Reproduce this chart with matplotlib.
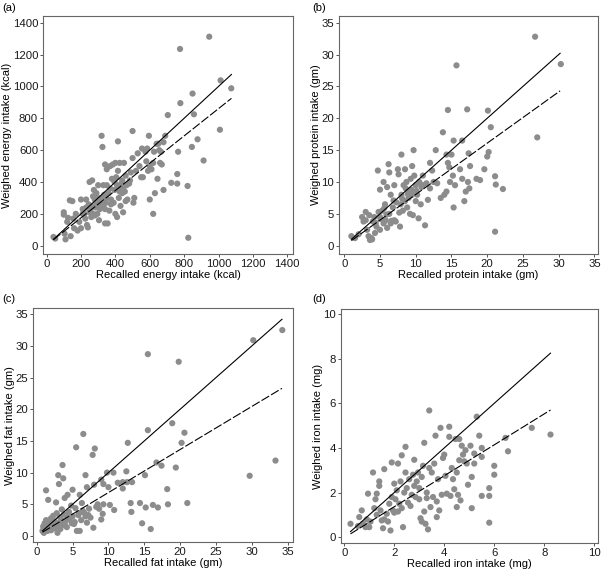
import matplotlib
matplotlib.use("Agg")
import matplotlib.pyplot as plt

plt.rcParams['font.family'] = ['Liberation Sans', 'DejaVu Sans']

# (a) energy, kcal
energy_x = [40, 50, 100, 100, 105, 110, 120, 125, 135, 140, 150, 155, 160, 170, 180, 190, 200, 200, 210, 215,
            220, 225, 230, 235, 240, 245, 250, 255, 260, 265, 270, 270, 275, 280, 285, 290, 290, 295, 300, 300,
            305, 310, 315, 320, 320, 325, 330, 335, 340, 340, 345, 350, 350, 355,
            360, 365, 370, 375, 380, 385, 390, 395, 400, 400, 405, 410, 410, 415, 415, 420, 425, 425, 430, 435,
            440, 445, 445, 450, 455, 460, 460, 470, 480, 490, 500, 500, 505, 510,
            520, 530, 540, 550, 555, 560, 575, 580, 585, 590, 595, 600, 600, 610, 620, 620, 625, 630, 640, 645,
            650, 655, 660, 665, 670, 680, 680, 690,
            705, 725, 760, 760, 765, 776, 778, 820, 824, 845, 849, 857, 878, 913, 946, 1008, 1012, 1074,
            230, 260, 285, 310, 330, 345, 370, 395, 420, 440, 465, 485, 210, 250, 280, 305, 340, 375]
energy_y = [55, 45, 210, 195, 75, 40, 150, 175, 285, 60, 280, 170, 110, 200, 95, 150, 290, 110, 200, 230,
            200, 170, 240, 130, 115, 260, 400, 220, 180, 410, 310, 200, 350, 290, 240, 330, 260, 200, 380, 280,
            160, 230, 300, 690, 250, 620, 380, 320, 140, 510, 270, 480, 380, 140,
            330, 220, 500, 290, 420, 510, 270, 350, 520, 200, 430, 380, 180, 655, 470, 300, 340, 520, 250, 390,
            410, 210, 360, 520, 340, 440, 280, 290, 390, 460, 720, 550, 270, 300,
            470, 580, 500, 430, 610, 430, 590, 530, 610, 470, 690, 290, 500, 480, 520, 200, 590, 330, 640, 420,
            640, 600, 520, 590, 510, 650, 350, 690,
            820, 395, 450, 390, 590, 1235, 895, 375, 50, 620, 955, 825, 668, 535, 1312, 728, 1038, 988,
            290, 250, 310, 270, 250, 300, 360, 400, 360, 330, 380, 410, 230, 210, 190, 240, 230, 260]

# (b) protein, gm
protein_x = [1, 1.5, 2, 2.5, 2.7, 3, 3, 3.2, 3.4, 3.5, 3.6, 3.8, 3.9, 4, 4.2, 4.3, 4.5, 4.7, 4.8, 5, 5, 5,
             5.3, 5.5, 5.5, 5.7, 5.8, 6, 6, 6.2, 6.3, 6.3, 6.5, 6.5, 6.8, 7, 7, 7.2, 7.5, 7.6, 7.8, 7.9, 8, 8,
             8.2, 8.3, 8.5, 8.5, 8.7, 8.8, 9, 9, 9.2, 9.3, 9.5, 9.5, 9.6, 9.7, 9.8, 10, 10,
             10.2, 10.4, 10.5, 10.7, 11, 11, 11.3, 11.5, 11.7, 12, 12, 12.3, 12.5, 12.8, 13, 13.5, 13.8, 14,
             14.3, 14.3, 14.5, 14.5, 14.7, 14.8, 15, 15.2, 15.3, 15.3, 15.5,
             15.7, 16.2, 16.5, 16.5, 16.8, 17, 17.2, 17.3, 17.4, 17.5, 17.6, 18.5, 19, 19.6, 20, 20.1, 20.2,
             20.5, 21.1, 21.2, 21.1, 22.2, 26.7, 27, 30.3,
             4.4, 5.1, 5.9, 6.6, 7.3, 8.1, 8.9, 9.4, 10.1, 10.8, 5.6, 6.9, 7.7, 8.6]
protein_y = [1.5, 1.2, 1.8, 4.5, 3.8, 5.3, 4, 2.5, 1.5, 4.8, 0.9, 1.2, 1, 3.8, 4.5, 2, 3, 11.8, 5.3, 8.8, 4.5, 2.5,
             5.5, 10, 3.5, 6.5, 4, 9.2, 2.8, 12.8, 11.5, 5, 8, 3.5, 6, 9.5, 4, 3.8, 12, 11.2, 3, 6.5, 14.3, 8,
             5.5, 9.5, 12, 7, 10, 6, 8.5, 7.5, 5, 10.5, 12.5, 8, 4.8, 15, 11, 9.5, 7,
             8, 4.3, 10, 6.5, 9.5, 11, 3.2, 9.8, 7.2, 13, 9, 11.8, 10, 15, 9.8, 7.5, 17.8, 8,
             8.5, 14.3, 13, 21.3, 12.3, 10, 14.3, 11, 6, 16.5, 9.5,
             28.3, 12, 16.5, 10.5, 7, 8.5, 21.4, 10, 14.5, 9, 12.5, 10.5, 10.3, 12, 14, 21.2, 14.7,
             18.6, 10.9, 9.6, 2.2, 8.9, 32.8, 17, 28.5,
             3.6, 4.2, 4.9, 3.9, 6.8, 7.4, 8.1, 8.8, 8.6, 9.2, 5.9, 7.1, 5.2, 9.0]

# (c) fat, gm
fat_x = [0.8, 0.9, 1, 1, 1.1, 1.2, 1.2, 1.3, 1.3, 1.4, 1.5, 1.5, 1.6, 1.7, 1.8, 2, 2, 2.2, 2.3, 2.5, 2.5, 2.7,
         2.8, 2.9, 3, 3, 3.1, 3.2, 3.3, 3.5, 3.5, 3.6, 3.7, 3.8, 3.9, 4, 4.2, 4.3, 4.5, 4.6, 4.8, 5, 5, 5.2,
         5.4, 5.5, 5.6, 5.8, 6, 6, 6.2, 6.3, 6.5, 6.6, 6.8, 7, 7, 7.3, 7.5, 7.8, 7.9, 8, 8.1, 8.3, 8.5, 9, 9,
         9.2, 9.3, 9.3, 9.8, 10, 10.2, 10.7, 10.8, 11.3, 12, 12, 12.5, 12.6, 12.7, 13.1, 13.2, 13.3,
         1.0, 1.4, 1.9, 2.4, 2.6, 3.4, 3.9, 4.4, 5.3, 5.9, 6.8, 1.1, 1.7, 2.1, 2.9, 4.1, 4.9, 6.4, 7.2, 8.7,
         14.4, 14.7, 15.1, 15.2, 15.5, 15.5, 15.9, 16.2, 16.7, 16.9, 17.4, 18.2, 18.3, 18.9, 19.4, 19.8,
         20.2, 20.6, 21.0, 29.7, 30.2, 33.3, 34.25]
fat_y = [0.8, 1.5, 0.6, 1.2, 2, 1, 1.6, 2.5, 7.2, 1.3, 0.8, 1.8, 5.7, 2.2, 1.4, 0.9, 2.8, 1.7, 3.2, 1.2, 2.3, 5.3,
         3.6, 0.5, 9.6, 2, 8.2, 3, 1.1, 4.2, 1.8, 11.2, 9.1, 3.4, 6, 2.3, 1.4, 6.5, 3.8, 2.6, 4.8, 7.3, 3.1, 1.9,
         4.4, 14, 0.8, 3.3, 6.5, 0.8, 2.5, 5.2, 16.1, 3.7, 9.6, 7.7, 2.1, 4.3, 2.9, 12.8, 1.3, 8.1, 13.8, 4.6, 5,
         8.9, 2.6, 3.5, 8.2, 5, 10, 7.7, 4.9, 10, 4.1, 8.4, 8.5, 7.5, 10.2, 8.5, 14.7, 5.2, 3.8, 8.5,
         0.5, 1.0, 1.2, 2.0, 1.5, 2.6, 1.7, 3.0, 2.2, 3.6, 3.1, 1.7, 1.1, 2.6, 1.5, 3.3, 2.0, 4.0, 3.3, 4.3,
         5.2, 2.0, 9.6, 4.5, 28.7, 16.7, 1.1, 4.9, 11.6, 4.5, 11.1, 7.4, 5.0, 17.8, 10.8, 27.5,
         14.7, 16.3, 5.2, 9.5, 30.9, 11.9, 32.5]

# (d) iron, mg
iron_x = [0.25, 0.55, 0.6, 0.7, 0.75, 0.85, 0.9, 0.95, 1, 1.05, 1.15, 1.2, 1.25, 1.3, 1.3, 1.4, 1.4, 1.45, 1.5,
          1.55, 1.6, 1.6, 1.7, 1.75, 1.8, 1.85, 1.9, 1.9, 1.95, 2, 2, 2.05, 2.1, 2.15, 2.15, 2.2, 2.25, 2.3, 2.3,
          2.35, 2.4, 2.45, 2.45, 2.5, 2.55, 2.6, 2.65, 2.7, 2.75, 2.8, 2.8, 2.85, 2.9, 2.95, 3, 3, 3.05, 3.1,
          3.1, 3.15, 3.2, 3.2, 3.25, 3.3, 3.3, 3.35, 3.4, 3.4, 3.45, 3.5, 3.55, 3.6, 3.65, 3.7, 3.7, 3.75, 3.8,
          3.85, 3.9, 3.95, 4, 4.05, 4.1, 4.2, 4.2, 4.25, 4.3, 4.35, 4.4, 4.45, 4.5, 4.5, 4.55, 4.6, 4.6, 4.65,
          4.7, 4.75, 4.8, 4.85, 4.9, 4.95, 5.05, 5.1, 5.1, 5.2, 5.2, 5.3, 5.4, 5.5, 5.5, 5.5, 5.8, 5.8, 5.8,
          6, 6, 6.45, 6.55, 7.5, 8.25]
iron_y = [0.6, 0.5, 0.9, 1.2, 0.6, 0.45, 0.8, 1.95, 0.45, 0.7, 2.9, 1.3, 1.7, 1.95, 1, 2.5, 2.3, 1.2, 0.75,
          0.4, 3.05, 0.8, 1.05, 0.7, 1.5, 0.3, 1.8, 3.35, 1.2, 2.4, 1.1, 1.7, 2.1, 3.3, 1.15, 1.5, 2.5, 3.67, 1.3,
          0.45, 2, 4.05, 2.9, 2.2, 1.55, 2.6, 1.4, 1.9, 2.8, 3.47, 2.3, 1.8, 2.5, 2.9, 2.2, 1.7, 0.85, 2.7,
          0.7, 3.2, 4.23, 1.15, 0.6, 2, 1.75, 0.35, 5.68, 3.1, 1.35, 2.9, 1.8, 3.3, 4.55, 1.6, 0.9, 2.6, 1.2,
          4.9, 1.9, 3.55, 3.7, 2.75, 1.95, 4.95, 4.5, 1.85, 3.1, 2.6, 2.15, 4.4, 2.9, 1.35, 1.9, 4.4, 3.45, 1.65,
          4.1, 3.7, 3.4, 3.9, 3.3, 2.35, 4.1, 1.3, 2.7, 3.75, 3.3, 5.4, 4.55, 3.6, 4.0, 1.85, 2.2, 1.85, 0.65,
          3.2, 2.8, 4.45, 3.85, 4.9, 4.6]

# identity line (solid) and fitted line (dashed): x ends, fitted y at ends
fit_ends_x = {'a': [40, 1075], 'b': [1, 30.2], 'c': [0.8, 34.2], 'd': [0.25, 8.25]}
fit_ends_y = {'a': [38, 925], 'b': [0.8, 24.3], 'c': [0.6, 23.3], 'd': [0.15, 5.7]}

panels = [
    ('a', energy_x, energy_y, 'Recalled energy intake (kcal)', 'Weighed energy intake (kcal)',
     [0, 200, 400, 600, 800, 1000, 1200, 1400], (-21, 1433), (-52, 1442), [0.0715, 0.5567, 0.416, 0.4154]),
    ('b', protein_x, protein_y, 'Recalled protein intake (gm)', 'Weighed protein intake (gm)',
     [0, 5, 10, 15, 20, 25, 30, 35], (-0.74, 35.5), (-1.3, 36.05), [0.564, 0.5567, 0.431, 0.4154]),
    ('c', fat_x, fat_y, 'Recalled fat intake (gm)', 'Weighed fat intake (gm)',
     [0, 5, 10, 15, 20, 25, 30, 35], (-0.52, 35.74), (-0.95, 35.95), [0.0549, 0.0541, 0.4326, 0.408]),
    ('d', iron_x, iron_y, 'Recalled iron intake (mg)', 'Weighed iron intake (mg)',
     [0, 2, 4, 6, 8, 10], (-0.13, 10.15), (-0.26, 10.22), [0.5674, 0.0524, 0.4276, 0.408]),
]
letter_pos = {'a': (0.004, 0.978), 'b': (0.52, 0.978), 'c': (0.004, 0.469), 'd': (0.52, 0.469)}

fig = plt.figure(figsize=(6.01, 5.73), dpi=100)

for key, xs, ys, xlab, ylab, ticks, xlim, ylim, rect in panels:
    ax = fig.add_axes(rect)
    ax.scatter(xs, ys, s=20, color='#8c8c8c', edgecolors='none', zorder=2)
    ex = fit_ends_x[key]
    ax.plot(ex, ex, color='black', lw=0.8, zorder=3)
    ax.plot(ex, fit_ends_y[key], color='black', lw=0.8, linestyle=(0, (8, 2)), zorder=3)
    ax.set_xlim(*xlim)
    ax.set_ylim(*ylim)
    ax.set_xticks(ticks)
    ax.set_yticks(ticks)
    ax.set_xlabel(xlab, fontsize=8, labelpad=0.5)
    ax.set_ylabel(ylab, fontsize=8, labelpad=0.5)
    ax.tick_params(labelsize=8.2, length=2.5, width=0.7, pad=1, color='#555555', labelcolor='#1a1a1a')
    for sp in ax.spines.values():
        sp.set_color('#666666')
        sp.set_linewidth(0.8)
    lx, ly = letter_pos[key]
    fig.text(lx, ly, '(%s)' % key, fontsize=8, ha='left', va='bottom')

fig.savefig('out.png', dpi=100)
